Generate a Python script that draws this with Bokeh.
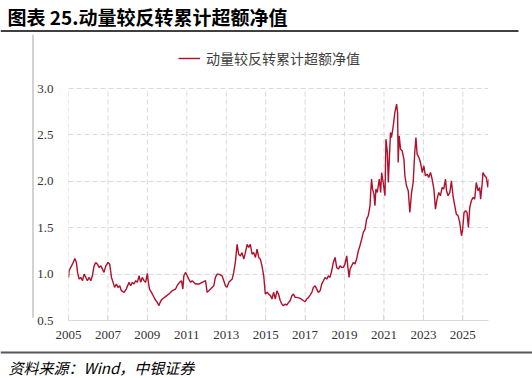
from bokeh.plotting import figure
from bokeh.layouts import column, row
from bokeh.models import Range1d, Legend, LegendItem, NumeralTickFormatter, ColumnDataSource
from bokeh.embed import file_html
from bokeh.resources import INLINE
from bokeh.core.properties import value

title_text = "图表 25.动量较反转累计超额净值"
series_name = "动量较反转累计超额净值"
source_text = "资料来源：Wind，中银证券"
x_ticks = [2005, 2007, 2009, 2011, 2013, 2015, 2017, 2019, 2021, 2023, 2025]
y_ticks = [0.5, 1.0, 1.5, 2.0, 2.5, 3.0]

dates = [
    2005.00, 2005.03, 2005.20, 2005.32, 2005.40, 2005.46, 2005.54, 2005.62, 2005.71, 2005.79,
    2005.88, 2005.96, 2006.05, 2006.13, 2006.21, 2006.30, 2006.38, 2006.47, 2006.55, 2006.64,
    2006.72, 2006.80, 2006.89, 2007.01, 2007.09, 2007.18, 2007.26, 2007.34, 2007.43, 2007.51,
    2007.60, 2007.68, 2007.82, 2007.93, 2008.07, 2008.15, 2008.24, 2008.32, 2008.41, 2008.49,
    2008.58, 2008.66, 2008.74, 2008.83, 2008.91, 2009.00, 2009.05, 2009.11, 2009.25, 2009.38,
    2009.50, 2009.59, 2009.67, 2009.76, 2009.92, 2010.09, 2010.26, 2010.43, 2010.51, 2010.63,
    2010.73, 2010.80, 2010.85, 2010.94, 2011.02, 2011.10, 2011.19, 2011.27, 2011.44, 2011.61,
    2011.78, 2011.95, 2012.03, 2012.12, 2012.29, 2012.37, 2012.45, 2012.54, 2012.62, 2012.79,
    2012.96, 2013.04, 2013.13, 2013.30, 2013.38, 2013.47, 2013.55, 2013.63, 2013.72, 2013.80,
    2013.89, 2013.97, 2014.06, 2014.14, 2014.22, 2014.31, 2014.39, 2014.48, 2014.56, 2014.65,
    2014.73, 2014.81, 2014.90, 2014.98, 2015.07, 2015.15, 2015.24, 2015.32, 2015.40, 2015.49,
    2015.57, 2015.65, 2015.74, 2015.82, 2015.90, 2015.99, 2016.07, 2016.16, 2016.24, 2016.33,
    2016.41, 2016.49, 2016.58, 2016.75, 2016.92, 2017.00, 2017.08, 2017.17, 2017.25, 2017.34,
    2017.42, 2017.51, 2017.59, 2017.67, 2017.76, 2017.84, 2017.93, 2018.01, 2018.10, 2018.18,
    2018.26, 2018.35, 2018.43, 2018.52, 2018.60, 2018.69, 2018.77, 2018.85, 2018.94, 2019.02,
    2019.11, 2019.16, 2019.23, 2019.28, 2019.36, 2019.45, 2019.53, 2019.61, 2019.70, 2019.78,
    2019.87, 2019.95, 2020.04, 2020.12, 2020.20, 2020.29, 2020.34, 2020.37, 2020.42, 2020.49,
    2020.54, 2020.59, 2020.66, 2020.71, 2020.76, 2020.83, 2020.88, 2020.96, 2021.05, 2021.10,
    2021.17, 2021.22, 2021.27, 2021.33, 2021.38, 2021.47, 2021.55, 2021.64, 2021.69, 2021.72,
    2021.77, 2021.84, 2021.92, 2022.01, 2022.06, 2022.14, 2022.23, 2022.31, 2022.40, 2022.48,
    2022.56, 2022.62, 2022.68, 2022.77, 2022.85, 2022.94, 2023.02, 2023.10, 2023.19, 2023.27,
    2023.36, 2023.44, 2023.53, 2023.61, 2023.69, 2023.78, 2023.86, 2023.95, 2024.03, 2024.12,
    2024.17, 2024.25, 2024.34, 2024.42, 2024.50, 2024.59, 2024.67, 2024.76, 2024.84, 2024.93,
    2024.98, 2025.06, 2025.14, 2025.21, 2025.28, 2025.35, 2025.43, 2025.52, 2025.60, 2025.68,
    2025.77, 2025.85, 2025.90, 2025.97, 2026.02, 2026.11, 2026.19, 2026.27, 2026.31,
]
values = [
    0.964, 1.036, 1.107, 1.168, 1.125, 1.018, 0.946, 0.964, 0.929, 1.000,
    0.964, 0.929, 0.964, 0.929, 0.982, 1.089, 1.125, 1.107, 1.071, 1.089,
    1.054, 1.018, 1.089, 1.125, 1.107, 0.964, 0.911, 0.857, 0.893, 0.857,
    0.875, 0.821, 0.804, 0.839, 0.911, 0.875, 0.911, 0.893, 0.929, 0.911,
    0.982, 0.911, 0.964, 0.929, 0.911, 1.007, 0.911, 0.839, 0.786, 0.732,
    0.696, 0.661, 0.707, 0.732, 0.757, 0.786, 0.821, 0.839, 0.875, 0.911,
    0.929, 0.839, 0.982, 1.018, 0.982, 0.946, 0.911, 0.929, 0.893, 0.893,
    0.911, 0.929, 0.804, 0.821, 0.857, 0.875, 0.964, 1.000, 1.000, 0.982,
    0.875, 0.857, 0.911, 0.946, 1.018, 1.143, 1.321, 1.214, 1.196, 1.232,
    1.161, 1.232, 1.321, 1.286, 1.321, 1.214, 1.232, 1.179, 1.268, 1.179,
    1.161, 1.089, 0.982, 0.786, 0.804, 0.786, 0.768, 0.732, 0.804, 0.732,
    0.820, 0.785, 0.713, 0.677, 0.659, 0.677, 0.666, 0.695, 0.713, 0.767,
    0.785, 0.749, 0.749, 0.738, 0.713, 0.702, 0.731, 0.749, 0.774, 0.803,
    0.856, 0.874, 0.838, 0.803, 0.820, 0.892, 0.928, 0.964, 0.946, 0.982,
    0.964, 1.036, 1.126, 1.180, 1.072, 1.054, 1.090, 1.072, 1.072, 1.108,
    1.197, 1.090, 0.964, 1.054, 1.090, 1.126, 1.108, 1.162, 1.251, 1.305,
    1.377, 1.449, 1.485, 1.592, 1.628, 1.736, 1.934, 2.023, 1.916, 1.862,
    1.736, 1.916, 1.880, 1.952, 2.023, 1.880, 2.095, 1.987, 1.844, 2.454,
    2.311, 1.987, 2.239, 2.526, 2.472, 2.598, 2.741, 2.831, 2.741, 2.203,
    2.490, 2.346, 2.329, 2.239, 2.059, 1.952, 1.898, 1.664, 1.880, 1.987,
    2.311, 2.472, 2.293, 2.257, 2.203, 2.095, 2.167, 2.059, 2.077, 2.041,
    2.095, 2.023, 1.916, 1.700, 1.808, 1.880, 1.844, 1.934, 1.916, 2.023,
    1.898, 1.844, 1.880, 2.005, 1.844, 1.736, 1.646, 1.628, 1.557, 1.413,
    1.467, 1.664, 1.682, 1.664, 1.503, 1.718, 1.790, 1.826, 1.808, 1.987,
    1.898, 1.934, 1.808, 1.952, 2.095, 2.059, 2.041, 1.934, 2.023,
]

CJK = "Noto Sans CJK SC"
NUM = "Liberation Serif"
LINE_COLOR = "#B0102B"
GRID_COLOR = "#d9d9d9"

TOTAL_W = 532
HEAD_H = 34
FOOT_H = 28
MID_H = 378 - HEAD_H - FOOT_H
STRIP_W = 34
MAIN_W = TOTAL_W - STRIP_W


def blank(width, height):
    f = figure(width=width, height=height, output_backend="svg", toolbar_location=None,
               x_range=Range1d(0, width), y_range=Range1d(height, 0),
               x_axis_type=None, y_axis_type=None,
               min_border_left=0, min_border_right=0, min_border_top=0, min_border_bottom=0)
    f.outline_line_color = None
    f.xgrid.visible = False
    f.ygrid.visible = False
    f.background_fill_color = "white"
    f.border_fill_color = "white"
    return f


# header: title and rule
head = blank(TOTAL_W, HEAD_H)
head.text(x=[7], y=[16], text=[title_text], text_font=value(CJK), text_font_size="19px",
          text_font_style="bold", text_color="#000000", text_align="left", text_baseline="middle")
head.segment(x0=[0], y0=[30.5], x1=[518], y1=[30.5], line_color="#000000", line_width=1.5)

# left strip with grey rule
strip = blank(STRIP_W, MID_H)
strip.segment(x0=[32.5], y0=[0], x1=[32.5], y1=[313], line_color="#b5b5b5", line_width=1.2)

# main chart
BL, BR, BT, BB = 68 - STRIP_W, TOTAL_W - 488, 0, 30
FRAME_H = MID_H - BT - BB
PX_PER_UNIT = 92.8
Y_TOP = 0.5 + FRAME_H / PX_PER_UNIT

p = figure(width=MAIN_W, height=MID_H, output_backend="svg", toolbar_location=None,
           x_range=Range1d(2005.0, 2026.3), y_range=Range1d(0.5, Y_TOP),
           min_border_left=BL, min_border_right=BR, min_border_top=BT, min_border_bottom=BB)
p.outline_line_color = None
p.background_fill_color = "white"
p.border_fill_color = "white"

# vertical dashed grid lines limited to the 0.5-3.0 band
p.segment(x0=x_ticks, y0=[y_ticks[0]] * len(x_ticks), x1=x_ticks, y1=[y_ticks[-1]] * len(x_ticks),
          line_color=GRID_COLOR, line_dash="5 3", line_width=1)
p.xgrid.visible = False
p.ygrid.ticker = y_ticks
p.ygrid.grid_line_color = GRID_COLOR
p.ygrid.grid_line_dash = "5 3"

src = ColumnDataSource(dict(x=dates, y=values))
r = p.line("x", "y", source=src, line_color=LINE_COLOR, line_width=1.4)

p.xaxis.ticker = x_ticks
p.yaxis.ticker = y_ticks
p.yaxis.formatter = NumeralTickFormatter(format="0.0")
for ax in (p.xaxis, p.yaxis):
    ax.major_label_text_font = NUM
    ax.major_label_text_font_size = "13px"
    ax.major_label_text_color = "#333333"
    ax.minor_tick_line_color = None
    ax.minor_tick_in = 0
    ax.minor_tick_out = 0
p.xaxis.axis_line_color = GRID_COLOR
p.xaxis.major_tick_line_color = GRID_COLOR
p.xaxis.major_tick_in = 6
p.xaxis.major_tick_out = 0
p.xaxis.major_label_standoff = 10
p.yaxis.axis_line_color = None
p.yaxis.major_tick_line_color = None
p.yaxis.major_tick_in = 0
p.yaxis.major_tick_out = 0
p.yaxis.major_label_standoff = 15

legend = Legend(items=[LegendItem(label=series_name, renderers=[r])],
                location=(110, 252), glyph_width=22, glyph_height=20, label_standoff=6,
                padding=0, margin=0, border_line_color=None, background_fill_alpha=0,
                label_text_font=CJK, label_text_font_size="14px", label_text_color="#404040")
p.add_layout(legend)

main_row = row(strip, p)

# footer: rule and source
foot = blank(TOTAL_W, FOOT_H)
foot.segment(x0=[0], y0=[2], x1=[TOTAL_W], y1=[2], line_color="#595959", line_width=2)
foot.text(x=[8], y=[17], text=[source_text], text_font=value(CJK), text_font_size="15px",
          text_font_style="italic", text_color="#000000", text_align="left", text_baseline="middle")

layout = column(head, main_row, foot)

open("out.html", "w").write(file_html(layout, INLINE))
